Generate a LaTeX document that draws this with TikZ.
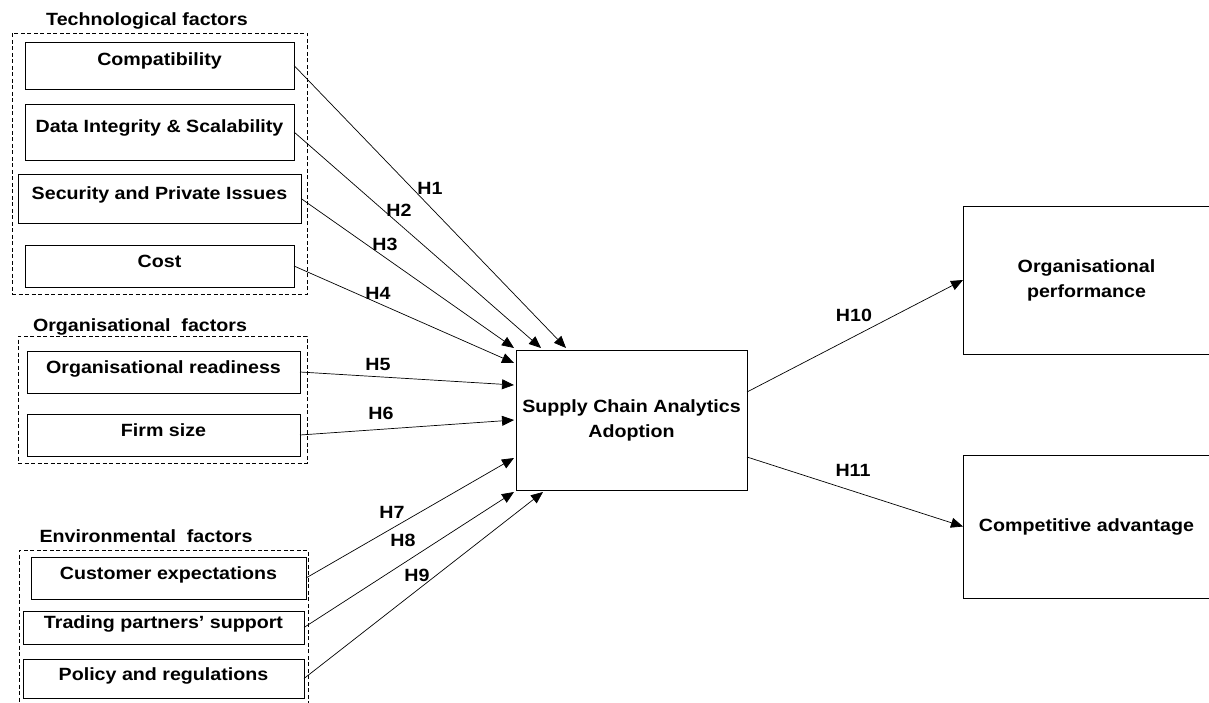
\documentclass[tikz,border=0pt]{standalone}
\usepackage{fontspec}
\setmainfont[FakeStretch=1.11]{Liberation Sans}
\usetikzlibrary{arrows.meta,calc}
\begin{document}
\begin{tikzpicture}[x=1pt,y=-1pt,
 every node/.style={font=\bfseries\fontsize{17.7}{25}\selectfont},
 fbox/.style={draw=black, line width=0.9pt, inner xsep=0pt, inner ysep=0pt, anchor=north west, align=center, outer sep=0pt},
 bigbox/.style={draw=black, line width=0.9pt, align=center, outer sep=0pt},
 grp/.style={draw=black, line width=0.8pt, dash pattern=on 4pt off 2.5pt, anchor=north west, inner sep=0pt, outer sep=0pt},
 link/.style={draw=black, line width=0.7pt, -{Triangle[length=12pt,width=10pt]}},
 hyp/.style={inner sep=0pt},
 grplabel/.style={anchor=base, inner sep=0pt}
]
\useasboundingbox (0,0) rectangle (1209,703);

% group frames
\node[grp, minimum width=295pt, minimum height=261pt] (techgrp) at (12,33) {};
\node[grp, minimum width=289pt, minimum height=127pt] (orggrp) at (18,336) {};
\node[grp, minimum width=289pt, minimum height=165pt] (envgrp) at (19,550) {};

% group labels
\node[grplabel] (techlbl) at (147,26) {Technological factors};
\node[grplabel] (orglbl) at (140,331) {Organisational\ \ factors};
\node[grplabel] (envlbl) at (146,542) {Environmental\ \ factors};

% factor boxes
\node[fbox, minimum width=269pt, text height=24pt, text depth=23pt] (compat) at (25,42) {Compatibility};
\node[fbox, minimum width=269pt, text height=29pt, text depth=27pt] (data) at (25,104) {Data Integrity \& Scalability};
\node[fbox, minimum width=283pt, text height=26pt, text depth=23pt] (secur) at (18,174) {Security and Private Issues};
\node[fbox, minimum width=269pt, text height=22pt, text depth=20pt] (cost) at (25,245) {Cost};
\node[fbox, minimum width=273pt, text height=22pt, text depth=20pt] (ready) at (27,351) {Organisational readiness};
\node[fbox, minimum width=273pt, text height=22pt, text depth=20pt] (firm) at (27,414) {Firm size};
\node[fbox, minimum width=275pt, text height=22pt, text depth=20pt] (cust) at (31,557) {Customer expectations};
\node[fbox, minimum width=281pt, text height=17pt, text depth=16pt] (trade) at (23,611) {Trading partners’ support};
\node[fbox, minimum width=281pt, text height=21pt, text depth=18pt] (policy) at (23,659) {Policy and regulations};

% central and outcome boxes
\node[bigbox, minimum width=231pt, minimum height=140pt] (sca) at (631.5,420) {Supply Chain Analytics\\Adoption};
\node[bigbox, minimum width=247pt, minimum height=148pt] (orgperf) at (1086.5,280) {Organisational\\performance};
\node[bigbox, minimum width=247pt, minimum height=143pt] (compadv) at (1086.5,526.5) {Competitive advantage};

% connectors
\draw[link] (compat.east) -- ($(sca.north west)+(50,-2)$);
\draw[link] (data.east) -- ($(sca.north west)+(25,-2)$);
\draw[link] (secur.east) -- ($(sca.north west)+(-2,-2)$);
\draw[link] (cost.east) -- ($(sca.north west)+(-2,13)$);
\draw[link] (ready.east) -- ($(sca.north west)+(-2,35)$);
\draw[link] (firm.east) -- ($(sca.north west)+(-2,70)$);
\draw[link] (cust.east) -- ($(sca.north west)+(-2,108)$);
\draw[link] (trade.east) -- ($(sca.south west)+(-2,2)$);
\draw[link] (policy.east) -- ($(sca.south west)+(27,2)$);
\draw[link] ($(sca.east)+(0,-28)$) -- (orgperf.west);
\draw[link] ($(sca.east)+(0,37)$) -- (compadv.west);

% hypothesis labels
\node[hyp] (h1) at (430,188) {H1};
\node[hyp] (h2) at (399,210) {H2};
\node[hyp] (h3) at (385,244) {H3};
\node[hyp] (h4) at (378,293) {H4};
\node[hyp] (h5) at (378,364) {H5};
\node[hyp] (h6) at (381,413) {H6};
\node[hyp] (h7) at (392,512) {H7};
\node[hyp] (h8) at (403,540) {H8};
\node[hyp] (h9) at (417,575) {H9};
\node[hyp] (h10) at (854,315) {H10};
\node[hyp] (h11) at (853,470) {H11};
\end{tikzpicture}
\end{document}
